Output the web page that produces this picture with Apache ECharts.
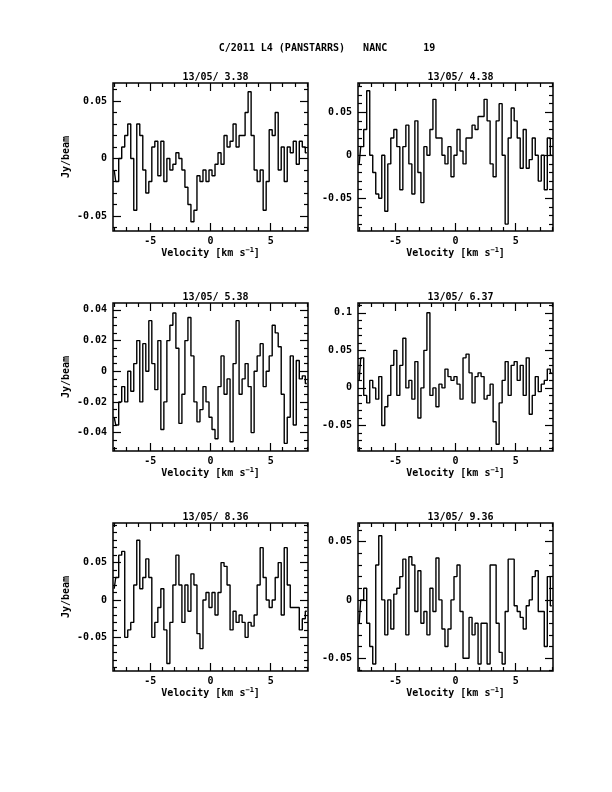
<!DOCTYPE html>
<html><head><meta charset="utf-8">
<script src="https://cdn.jsdelivr.net/npm/echarts@6/dist/echarts.min.js"></script>
<style>html,body{margin:0;background:#fff}#c{width:612px;height:792px}</style>
</head><body><div id="c"></div>
<script>
const velocity=[-8,-7.75,-7.5,-7.25,-7,-6.75,-6.5,-6.25,-6,-5.75,-5.5,-5.25,-5,-4.75,-4.5,-4.25,-4,-3.75,-3.5,-3.25,-3,-2.75,-2.5,-2.25,-2,-1.75,-1.5,-1.25,-1,-0.75,-0.5,-0.25,0,0.25,0.5,0.75,1,1.25,1.5,1.75,2,2.25,2.5,2.75,3,3.25,3.5,3.75,4,4.25,4.5,4.75,5,5.25,5.5,5.75,6,6.25,6.5,6.75,7,7.25,7.5,7.75,8];
const titles=["13/05/ 3.38","13/05/ 4.38","13/05/ 5.38","13/05/ 6.37","13/05/ 8.36","13/05/ 9.36"];
const mainTitle="C/2011 L4 (PANSTARRS)   NANC      19";
const s1=[-0.01,-0.02,0,0.01,0.02,0.03,0,-0.045,0.03,0.02,-0.01,-0.03,-0.02,0.01,0.015,-0.015,0.015,-0.02,0,-0.01,-0.005,0.005,0,-0.01,-0.025,-0.04,-0.055,-0.045,-0.015,-0.02,-0.01,-0.02,-0.01,-0.015,-0.005,0.005,-0.005,0.02,0.01,0.015,0.03,0.01,0.02,0.02,0.04,0.058,0.02,-0.01,-0.02,-0.01,-0.045,-0.02,0.025,0.02,0.04,-0.01,0.01,-0.02,0.01,0.005,0.015,-0.005,0.015,0.01,0.005];
const s2=[-0.01,0.01,0.03,0.075,0,-0.02,-0.045,-0.05,0,-0.065,-0.01,0.02,0.03,0.01,-0.04,0.01,0.035,-0.01,-0.045,0.04,-0.02,-0.055,0.01,0,0.03,0.065,0.02,0.02,0,-0.01,0.01,-0.025,0,0.03,0.005,-0.01,0.02,0.02,0.035,0.03,0.045,0.045,0.065,0.04,-0.01,-0.025,0.04,0.06,0,-0.08,0.02,0.055,0.04,0.02,-0.015,0.03,-0.015,-0.005,0.02,0,-0.03,0,-0.04,0.02,0];
const s3=[-0.03,-0.035,-0.02,-0.01,-0.02,0,-0.013,0.005,0.02,-0.02,0.018,0,0.033,0.005,-0.012,0.02,-0.038,-0.02,0.02,0.03,0.038,0.015,-0.034,-0.015,0.02,0.035,0.01,-0.02,-0.033,-0.025,-0.01,-0.02,-0.03,-0.038,-0.044,-0.01,0.01,-0.015,-0.005,-0.046,0.005,0.033,-0.015,-0.005,0.005,-0.01,-0.04,0,0.01,0.018,-0.01,0,0.01,0.03,0.025,0.016,-0.015,-0.047,-0.03,0.01,-0.035,0.007,-0.005,-0.003,-0.008];
const s4=[0.01,0.04,-0.01,-0.02,0.01,0,-0.015,0.015,-0.05,-0.025,-0.01,0.03,0.05,-0.01,0.03,0.066,0,0.01,-0.015,0.035,-0.04,0,0.05,0.1,-0.01,0,-0.025,0.005,0,0.025,0.015,0.01,0.015,0.005,-0.015,0.04,0.045,0.02,-0.02,0.015,0.02,0.015,-0.015,-0.01,0.005,-0.045,-0.075,-0.02,0.01,0.035,-0.01,0.03,0.035,0.01,0.03,-0.01,0.04,-0.035,-0.01,0.015,-0.005,0.005,0.01,0.025,0.02];
const s5=[0.015,0.03,0.06,0.065,-0.05,-0.04,-0.03,0.02,0.08,0.015,0.03,0.055,0.03,-0.05,-0.03,-0.01,0.015,-0.04,-0.085,-0.03,0.02,0.06,0.02,-0.03,0.02,-0.015,0.035,0.02,-0.045,-0.065,0,0.01,-0.01,0.01,-0.02,0.01,0.05,0.045,0.02,-0.04,-0.015,-0.03,-0.02,-0.03,-0.05,-0.03,-0.035,-0.02,0.02,0.07,0.03,0,-0.01,0,0.03,0.05,-0.02,0.07,0.02,-0.01,-0.01,-0.01,-0.04,-0.025,-0.015];
const s6=[-0.02,0,0.01,-0.02,-0.04,-0.055,0.03,0.055,0,-0.03,0,-0.025,0.005,0.01,0.02,0.035,-0.03,0.037,0.03,-0.01,0.025,-0.02,-0.01,-0.03,0.01,-0.01,0.036,0,-0.025,-0.04,-0.025,0,0.02,0.03,-0.01,-0.05,-0.05,-0.015,-0.03,-0.02,-0.055,-0.02,-0.02,-0.055,0.03,0.03,-0.02,-0.045,-0.055,-0.01,0.035,0.035,-0.005,-0.01,-0.015,-0.025,-0.005,0,0.02,0.025,-0.01,-0.01,-0.04,0.02,-0.005];
const yMajor=[[-0.05,0,0.05],[-0.05,0,0.05],[-0.04,-0.02,0,0.02,0.04],[-0.05,0,0.05,0.1],[-0.05,0,0.05],[-0.05,0,0.05]];
const xMajor=[-5,0,5];
const series=[s1,s2,s3,s4,s5,s6];
const yRange=[[-0.063,0.0656],[-0.088,0.084],[-0.052,0.0445],[-0.084,0.113],[-0.095,0.103],[-0.061,0.066]];
const yMinorStep=[0.01,0.01,0.005,0.01,0.01,0.01];
const xMinor=[-8,-7,-6,-4,-3,-2,-1,1,2,3,4,6,7,8];

const FONT='DejaVu Sans Mono';
const lefts=[113,358], tops=[83,303,523], W=195, H=148;
const grids=[],xAxes=[],yAxes=[],ser=[],titleArr=[];
function fmt(v){if(Math.abs(v)<1e-9)return '0';return String(+v.toFixed(3));}
const noLine={show:false,onZero:false};
for(let i=0;i<6;i++){
  const col=i%2,row=Math.floor(i/2);
  grids.push({left:lefts[col],top:tops[row],width:W,height:H,show:true,borderColor:'#000',borderWidth:1.5});
  const [ymin,ymax]=yRange[i];
  const minors=[];const st=yMinorStep[i];
  for(let k=Math.ceil(ymin/st);k*st<=ymax;k++){const v=+(k*st).toFixed(4);if(!yMajor[i].some(m=>Math.abs(m-v)<1e-9))minors.push(v);}
  const base={gridIndex:i,type:'value',min:-8.1,max:8.1,splitLine:{show:false},axisLine:noLine};
  const xb=xAxes.length;
  xAxes.push(Object.assign({},base,{position:'bottom',axisTick:{inside:true,length:8,customValues:xMajor,lineStyle:{color:'#000',width:1.2}},
    axisLabel:{customValues:xMajor,color:'#000',fontFamily:FONT,fontWeight:'bold',fontSize:10,margin:5,formatter:v=>fmt(v)},
    name:'Velocity [km s{s|−1}]',nameLocation:'middle',nameGap:16,nameTextStyle:{color:'#000',fontFamily:FONT,fontWeight:'bold',fontSize:10,rich:{s:{fontSize:7,verticalAlign:'top',padding:[0,0,6,0],fontFamily:FONT,fontWeight:'bold'}}}}));
  xAxes.push(Object.assign({},base,{position:'top',axisTick:{inside:true,length:8,customValues:xMajor,lineStyle:{color:'#000',width:1.2}},axisLabel:{show:false}}));
  xAxes.push(Object.assign({},base,{position:'bottom',axisTick:{inside:true,length:4,customValues:xMinor,lineStyle:{color:'#000',width:1.2}},axisLabel:{show:false}}));
  xAxes.push(Object.assign({},base,{position:'top',axisTick:{inside:true,length:4,customValues:xMinor,lineStyle:{color:'#000',width:1.2}},axisLabel:{show:false}}));
  const yb={gridIndex:i,type:'value',min:ymin,max:ymax,splitLine:{show:false},axisLine:noLine};
  const yi=yAxes.length;
  yAxes.push(Object.assign({},yb,{position:'left',axisTick:{inside:true,length:8,customValues:yMajor[i],lineStyle:{color:'#000',width:1.2}},
    axisLabel:{customValues:yMajor[i],color:'#000',fontFamily:FONT,fontWeight:'bold',fontSize:10,margin:6,formatter:v=>fmt(v)},
    name:col===0?'Jy/beam':'',nameLocation:'middle',nameGap:42,nameRotate:90,nameTextStyle:{color:'#000',fontFamily:FONT,fontWeight:'bold',fontSize:10}}));
  yAxes.push(Object.assign({},yb,{position:'right',axisTick:{inside:true,length:8,customValues:yMajor[i],lineStyle:{color:'#000',width:1.2}},axisLabel:{show:false}}));
  yAxes.push(Object.assign({},yb,{position:'left',axisTick:{inside:true,length:4,customValues:minors,lineStyle:{color:'#000',width:1.2}},axisLabel:{show:false}}));
  yAxes.push(Object.assign({},yb,{position:'right',axisTick:{inside:true,length:4,customValues:minors,lineStyle:{color:'#000',width:1.2}},axisLabel:{show:false}}));
  ser.push({type:'line',xAxisIndex:xb,yAxisIndex:yi,step:'middle',symbol:'none',silent:true,animation:false,
    lineStyle:{color:'#000',width:1.4},data:velocity.map((v,k)=>[v,series[i][k]])});
  titleArr.push({text:titles[i],left:lefts[col]+W/2,top:tops[row]-16,textAlign:'center',textStyle:{color:'#000',fontFamily:FONT,fontWeight:'bold',fontSize:10}});
}
titleArr.push({text:mainTitle,left:322,top:38,textAlign:'center',textStyle:{color:'#000',fontFamily:FONT,fontWeight:'bold',fontSize:10}});
const chart=echarts.init(document.getElementById('c'),null,{renderer:'canvas'});
chart.setOption({backgroundColor:'#fff',animation:false,title:titleArr,grid:grids,xAxis:xAxes,yAxis:yAxes,series:ser});
</script></body></html>
